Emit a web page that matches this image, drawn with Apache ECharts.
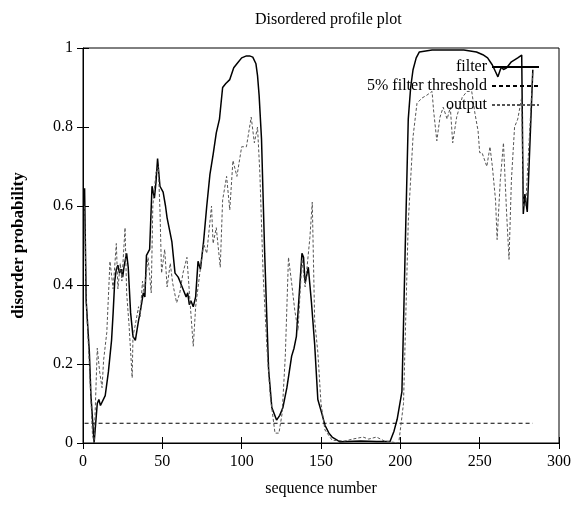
<!DOCTYPE html>
<html style="height: 100%">
   <head>
       <meta charset="utf-8">
   </head>
   <body style="height: 100%; margin: 0">
       <div id="container" style="height: 100%"></div>
       <script type="text/javascript" src="https://cdn.jsdelivr.net/npm/echarts@6/dist/echarts.min.js"></script>
       <script type="text/javascript">
// values (sequence position, probability)
var filterX = [1, 2, 4, 5, 7, 8, 9, 10, 11, 12, 14, 16, 18, 19, 20, 21, 22, 23, 24, 25, 26, 27.5, 28.5, 30, 31.5, 33, 35, 36, 38, 39,
    40, 42, 43.5, 45, 46, 47, 48.5, 50.5, 52, 53, 55, 56, 57, 58, 60, 61, 63, 64, 65, 66, 67, 68, 69.5, 71, 72.5, 74, 76, 78,
    80, 82, 84, 86, 88, 90, 92.5, 95, 97, 100, 103, 105, 107, 109, 110, 111, 112.5, 114.5, 116, 117, 119, 122, 124, 126, 128.5,
    131.5, 133, 134.5, 136, 138, 139, 140, 142, 144, 146, 148, 150.5, 152.5, 155, 157, 162, 175, 185, 193.5, 196, 198, 201, 202,
    203, 205, 206.5, 208, 210, 212, 220, 240, 248, 252, 255, 258, 260, 261.5, 263, 264, 265, 267, 270, 272, 274, 276.5, 277.5,
    278.5, 280, 283.5];
var filterY = [0.645, 0.36, 0.23, 0.12, 0.0, 0.05, 0.10, 0.11, 0.095, 0.09, 0.12, 0.18, 0.26, 0.33, 0.41, 0.44, 0.45, 0.43, 0.44, 0.42,
    0.45, 0.48, 0.445, 0.33, 0.27, 0.26, 0.31, 0.33, 0.38, 0.37, 0.475, 0.49, 0.65, 0.62, 0.66, 0.72, 0.65, 0.635, 0.6, 0.57,
    0.53, 0.51, 0.47, 0.43, 0.42, 0.41, 0.39, 0.395, 0.37, 0.38, 0.35, 0.36, 0.345, 0.37, 0.46, 0.44, 0.51, 0.6, 0.68, 0.73,
    0.785, 0.82, 0.90, 0.91, 0.92, 0.95, 0.96, 0.975, 0.98, 0.98, 0.977, 0.96, 0.93, 0.88, 0.77, 0.48, 0.3, 0.185, 0.09, 0.058,
    0.07, 0.09, 0.14, 0.22, 0.24, 0.27, 0.36, 0.48, 0.47, 0.405, 0.445, 0.355, 0.25, 0.11, 0.075, 0.045, 0.025, 0.015, 0.003,
    0.005, 0.004, 0.004, 0.03, 0.06, 0.13, 0.3, 0.48, 0.82, 0.9, 0.945, 0.975, 0.99, 0.995, 0.995, 0.99, 0.983, 0.975, 0.957,
    0.94, 0.927, 0.945, 0.952, 0.945, 0.95, 0.965, 0.97, 0.975, 0.982, 0.58, 0.63, 0.585, 0.945];

var outputX = [1, 2, 4, 6, 7, 9, 10.5, 12, 13, 15, 17, 19, 21, 22, 23.5, 24.5, 26.5, 27.5, 29, 31, 31.5, 33, 35, 36, 37.5, 38.5,
    41, 43, 44, 46, 47.5, 48.5, 49.5, 51.5, 53, 55, 56.5, 59, 61, 63, 65.5, 67.5, 69.5, 71, 73, 76, 78, 81, 82, 84, 86.5, 88,
    90.5, 92.5, 94.5, 97, 100, 103, 106, 108, 110, 111.5, 113.5, 116, 118, 121, 123.5, 125.5, 127.5, 129.5, 131.5, 133.5, 135.5,
    138, 140, 143, 144.5, 146, 148, 150, 152.5, 157, 165, 170, 176.5, 180, 185, 190, 193.5, 199, 202, 205, 208, 210.5, 213.5,
    216.5, 220, 221, 223, 225, 227, 229.5, 231.5, 233, 235.5, 239, 242, 245, 247, 249, 250, 251.5, 254.5, 256.5, 258, 260, 261,
    263, 265, 267, 268.5, 270, 272, 274, 276.5, 277.5, 279, 283.5];
var outputY = [0.6, 0.36, 0.2, 0.02, 0.0, 0.24, 0.18, 0.14, 0.21, 0.28, 0.46, 0.39, 0.505, 0.39, 0.455, 0.41, 0.545, 0.38, 0.3, 0.165,
    0.27, 0.3, 0.345, 0.32, 0.41, 0.38, 0.47, 0.38, 0.6, 0.685, 0.70, 0.59, 0.43, 0.49, 0.395, 0.455, 0.405, 0.355, 0.38, 0.43,
    0.47, 0.355, 0.245, 0.345, 0.41, 0.505, 0.48, 0.60, 0.505, 0.545, 0.445, 0.615, 0.675, 0.59, 0.715, 0.675, 0.75, 0.75, 0.825,
    0.76, 0.80, 0.68, 0.43, 0.235, 0.12, 0.025, 0.025, 0.075, 0.22, 0.47, 0.405, 0.335, 0.285, 0.465, 0.395, 0.52, 0.61, 0.31,
    0.23, 0.10, 0.033, 0.007, 0.005, 0.01, 0.015, 0.01, 0.015, 0.005, 0.003, 0.0, 0.1, 0.56, 0.775, 0.86, 0.873, 0.88, 0.89, 0.84,
    0.765, 0.825, 0.85, 0.82, 0.85, 0.76, 0.825, 0.875, 0.89, 0.89, 0.835, 0.79, 0.735, 0.735, 0.70, 0.75, 0.70, 0.615, 0.515,
    0.665, 0.76, 0.58, 0.465, 0.665, 0.80, 0.82, 0.875, 0.60, 0.60, 0.94];

var thresholdX = [1, 283.5];
var thresholdY = [0.05, 0.05];

function pairs(xs, ys) {
    return xs.map(function (x, i) { return [x, ys[i]]; });
}

var serif = '"Liberation Serif", "DejaVu Serif", serif';
var dom = document.getElementById("container");
var myChart = echarts.init(dom);

var legendBase = {
    orient: 'vertical',
    align: 'right',
    right: 37,
    padding: 0,
    itemWidth: 47,
    itemHeight: 10,
    itemGap: 4,
    selectedMode: false,
    itemStyle: { opacity: 0 },
    textStyle: { fontFamily: serif, fontSize: 16, color: '#000' }
};

option = {
    animation: false,
    backgroundColor: '#fff',
    title: {
        text: 'Disordered profile plot',
        left: 250,
        top: 7,
        textStyle: { fontFamily: serif, fontSize: 16, fontWeight: 'normal', color: '#000' }
    },
    legend: [
        Object.assign({}, legendBase, { top: 59, data: ['filter'] }),
        Object.assign({}, legendBase, { top: 78, data: ['5% filter threshold'] }),
        Object.assign({}, legendBase, { top: 97, data: ['output'] })
    ],
    grid: {
        left: 83,
        right: 18,
        top: 48,
        bottom: 63,
        show: true,
        borderColor: '#000',
        borderWidth: 1
    },
    xAxis: [{
        type: 'value',
        min: 0,
        max: 300,
        interval: 50,
        name: 'sequence number',
        nameLocation: 'middle',
        nameGap: 38,
        nameTextStyle: { fontFamily: serif, fontSize: 16, color: '#000' },
        axisLine: { lineStyle: { color: '#000' } },
        axisTick: { inside: true, length: 6, lineStyle: { color: '#000' } },
        axisLabel: { fontFamily: serif, fontSize: 16, color: '#000', margin: 11 },
        splitLine: { show: false }
    }, {
        type: 'value',
        position: 'top',
        min: 0,
        max: 300,
        interval: 50,
        axisLine: { show: false },
        axisTick: { inside: true, length: 6, lineStyle: { color: '#000' } },
        axisLabel: { show: false },
        splitLine: { show: false }
    }],
    yAxis: [{
        type: 'value',
        min: 0,
        max: 1,
        interval: 0.2,
        name: 'disorder probability',
        nameLocation: 'middle',
        nameGap: 56,
        nameTextStyle: { fontFamily: serif, fontSize: 17, fontWeight: 'bold', color: '#000' },
        axisLine: { show: true, lineStyle: { color: '#000' } },
        axisTick: { inside: true, length: 6, lineStyle: { color: '#000' } },
        axisLabel: { fontFamily: serif, fontSize: 16, color: '#000', margin: 10 },
        splitLine: { show: false }
    }, {
        type: 'value',
        position: 'right',
        min: 0,
        max: 1,
        interval: 0.2,
        axisLine: { show: false },
        axisTick: { show: true, inside: true, length: 6, lineStyle: { color: '#000' } },
        axisLabel: { show: false },
        splitLine: { show: false }
    }],
    series: [
        {
            name: 'filter',
            type: 'line',
            symbol: 'none',
            data: pairs(filterX, filterY),
            lineStyle: { color: '#000', width: 1.5 },
            itemStyle: { color: '#000' },
            z: 3
        },
        {
            name: '5% filter threshold',
            type: 'line',
            symbol: 'none',
            data: pairs(thresholdX, thresholdY),
            lineStyle: { color: '#000', width: 1, type: [4, 3] },
            itemStyle: { color: '#000' }
        },
        {
            name: 'output',
            type: 'line',
            symbol: 'none',
            data: pairs(outputX, outputY),
            lineStyle: { color: '#555', width: 1, type: [3, 2] },
            itemStyle: { color: '#555' }
        }
    ]
};

if (option && typeof option === "object") {
    myChart.setOption(option, true);
}
       </script>
   </body>
</html>
